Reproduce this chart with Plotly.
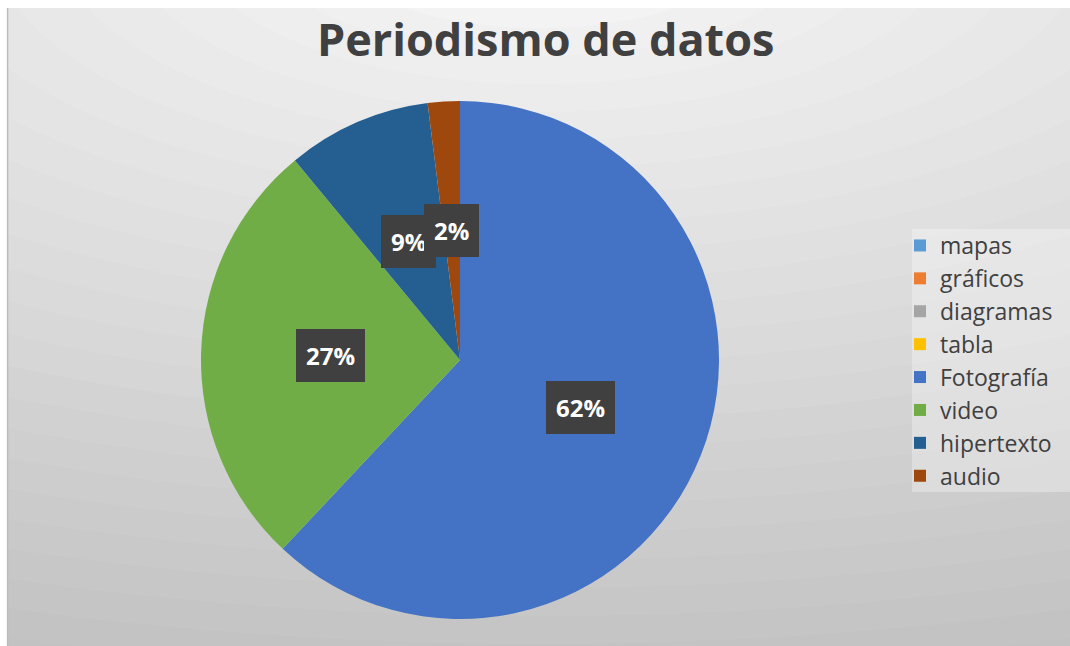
import math
import plotly.graph_objects as go

# ---- data ----
categories = ["mapas", "gráficos", "diagramas", "tabla", "Fotografía", "video", "hipertexto", "audio"]
values = [0, 0, 0, 0, 62, 27, 9, 2]
colors = ["#5B9BD5", "#ED7D31", "#A5A5A5", "#FFC000", "#4472C4", "#70AD47", "#255E91", "#9E480E"]
title_text = "Periodismo de datos"

W, H = 1070, 646


def fx(px):  # screen px -> paper x
    return px / W


def fy(py):  # screen px -> paper y
    return 1 - py / H


# chart area (screen px)
BX0, BY0 = 7, 8
# pie placement (screen pixels)
PCX, PCY, PR = 460, 360, 259

fig = go.Figure()
fig.add_trace(go.Pie(
    labels=categories,
    values=values,
    marker=dict(colors=colors, line=dict(width=0)),
    sort=False,
    direction="clockwise",
    rotation=0,
    textinfo="none",
    hoverinfo="label+percent",
    domain=dict(x=[fx(PCX - PR), fx(PCX + PR)], y=[fy(PCY + PR), fy(PCY - PR)]),
))

# ---- background gradient (decorative) ----
shapes = []
shapes.append(dict(type="rect", xref="paper", yref="paper", x0=fx(BX0), x1=1, y0=0, y1=fy(BY0),
                   fillcolor="#c2c2c2", line=dict(width=0), layer="below"))
cx, cy, s = 540, -60, 2.4
for rho in range(760, 0, -28):
    g = int(round(max(194, min(246, 244 - (rho - 68) * 0.074))))
    col = f"rgb({g},{g},{g})"
    shapes.append(dict(type="circle", xref="paper", yref="paper",
                       x0=fx(cx - s * rho), x1=fx(cx + s * rho),
                       y0=fy(cy + rho), y1=fy(cy - rho),
                       fillcolor=col, line=dict(width=0), layer="below"))
# white outer margins (top / left)
shapes.append(dict(type="rect", xref="paper", yref="paper", x0=-0.1, x1=1.1, y0=fy(BY0), y1=1.1,
                   fillcolor="white", line=dict(width=0), layer="below"))
shapes.append(dict(type="rect", xref="paper", yref="paper", x0=-0.1, x1=fx(BX0), y0=-0.1, y1=1.1,
                   fillcolor="white", line=dict(width=0), layer="below"))
# left border line
shapes.append(dict(type="line", xref="paper", yref="paper", x0=fx(BX0 + 0.6), x1=fx(BX0 + 0.6), y0=0, y1=fy(BY0),
                   line=dict(color="#bcbcbc", width=1.5), layer="below"))
# legend box
shapes.append(dict(type="rect", xref="paper", yref="paper", x0=fx(912), x1=1.0, y0=fy(492), y1=fy(229),
                   fillcolor="rgba(255,255,255,0.3)", line=dict(width=0), layer="below"))

# ---- data labels as boxed annotations ----
annotations = []
total = sum(values)
cum = 0.0
for lab, v in zip(categories, values):
    if v <= 0:
        continue
    mid = (cum + v / 2) / total * 2 * math.pi
    cum += v
    px = PCX + 0.5 * PR * math.sin(mid)
    py = PCY - 0.5 * PR * math.cos(mid)
    annotations.append(dict(
        x=fx(px), y=fy(py), xref="paper", yref="paper",
        text=f"<b>{round(v / total * 100)}%</b>", showarrow=False,
        font=dict(family="Open Sans", size=24, color="white"),
        bgcolor="#404040", borderpad=10, borderwidth=0,
        xanchor="center", yanchor="middle",
    ))

annotations.append(dict(
    x=fx(545.5), y=fy(38), xref="paper", yref="paper",
    text=f"<b>{title_text}</b>", showarrow=False,
    font=dict(family="Open Sans", size=45, color="#404040"),
    xanchor="center", yanchor="middle",
))

fig.update_layout(
    width=W, height=H,
    margin=dict(l=0, r=0, t=0, b=0),
    paper_bgcolor="white",
    shapes=shapes,
    annotations=annotations,
    showlegend=True,
    legend=dict(
        x=fx(900), y=fy(361), xanchor="left", yanchor="middle",
        font=dict(family="Open Sans", size=23, color="#404040"),
        bgcolor="rgba(0,0,0,0)",
        traceorder="normal",
        itemclick=False,
    ),
)

fig.write_html(
    "out.html",
    config={"displayModeBar": False},
    post_script="document.body.style.margin='0';document.body.style.overflow='hidden';",
)
